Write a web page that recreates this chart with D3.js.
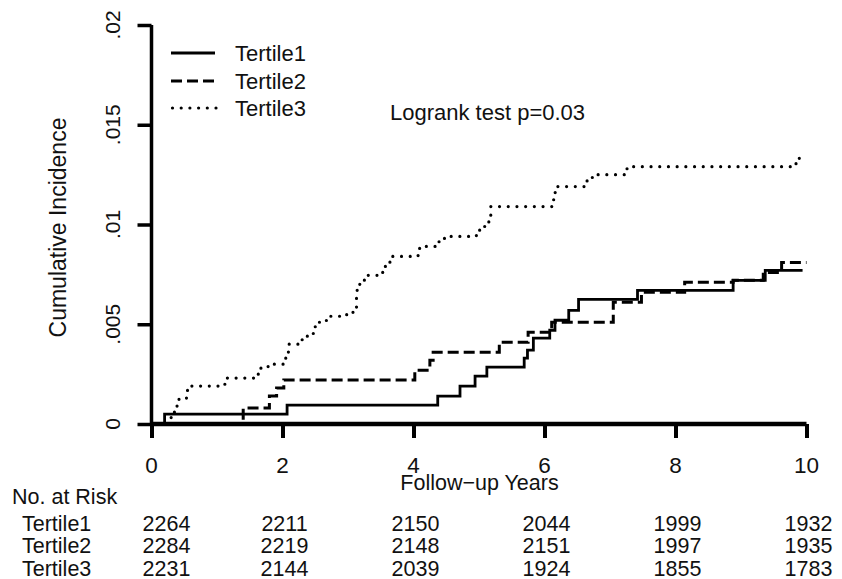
<!DOCTYPE html>
<html>
<head>
<meta charset="utf-8">
<script src="https://cdn.jsdelivr.net/npm/d3@7"></script>
<style>
  html, body { margin: 0; padding: 0; background: #fff; }
  svg { display: block; }
  text { font-family: "Liberation Sans", Arial, sans-serif; fill: #111; }
</style>
</head>
<body>
<svg id="chart" width="842" height="579"></svg>
<script>
// ---------- data ----------
const seriesNames = ["Tertile1", "Tertile2", "Tertile3"];

// step points: time (years) where the curve jumps, and the value after the jump
const t1Times  = [0, 0.20, 2.07, 4.37, 4.71, 4.94, 5.12, 5.69, 5.74, 5.83, 6.08, 6.16, 6.37, 6.52, 7.42, 8.88, 9.37, 9.94];
const t1Values = [0, 0.0005, 0.00095, 0.0014, 0.0019, 0.0024, 0.00285, 0.0033, 0.0037, 0.0043, 0.0047, 0.0052, 0.0057, 0.00625, 0.0067, 0.0072, 0.0077, 0.0077];

const t2Times  = [0, 1.40, 1.80, 1.91, 2.02, 4.02, 4.25, 4.30, 5.31, 5.75, 6.11, 7.05, 7.48, 8.14, 8.88, 9.34, 9.62, 10.0];
const t2Values = [0, 0.0008, 0.0014, 0.0018, 0.0022, 0.0027, 0.0032, 0.0036, 0.0041, 0.0046, 0.0051, 0.0061, 0.0066, 0.0071, 0.0072, 0.0076, 0.0081, 0.0081];

const t3Times  = [0, 0.30, 0.35, 0.42, 0.55, 1.12, 1.63, 1.78, 2.04, 2.09, 2.30, 2.47, 2.50, 2.67, 2.98, 3.13, 3.14, 3.18, 3.25, 3.53, 3.64, 4.07, 4.19, 4.39, 4.51, 4.96, 5.01, 5.13, 5.15, 5.18, 6.13, 6.14, 6.18, 6.65, 6.73, 7.26, 9.84, 9.89, 9.92];
const t3Values = [0, 0.0004, 0.0009, 0.0013, 0.0019, 0.0023, 0.0028, 0.0030, 0.0033, 0.0040, 0.0044, 0.0046, 0.0051, 0.0054, 0.0056, 0.0065, 0.0069, 0.0072, 0.00745, 0.0079, 0.0084, 0.0088, 0.0089, 0.0093, 0.0094, 0.0096, 0.0099, 0.0100, 0.0104, 0.0109, 0.0112, 0.0116, 0.0119, 0.0122, 0.0125, 0.0129, 0.0132, 0.0135, 0.0135];

const xTicks = [0, 2, 4, 6, 8, 10];
const yTicks = [0, 0.005, 0.01, 0.015, 0.02];
const yTickLabels = ["0", ".005", ".01", ".015", ".02"];

const riskTimes = [0, 2, 4, 6, 8, 10];
const risk1 = [2264, 2211, 2150, 2044, 1999, 1932];
const risk2 = [2284, 2219, 2148, 2151, 1997, 1935];
const risk3 = [2231, 2144, 2039, 1924, 1855, 1783];

const xTitle = "Follow\u2212up Years";
const yTitle = "Cumulative Incidence";
const annotation = "Logrank test p=0.03";
const riskTitle = "No. at Risk";

// ---------- layout ----------
const svg = d3.select("#chart");
const x = d3.scaleLinear().domain([0, 10]).range([151.5, 806.5]);
const y = d3.scaleLinear().domain([0, 0.02]).range([424, 25]);

const styles = [
  { dash: null, width: 2.8, cap: "butt" },
  { dash: "11 5", width: 3, cap: "butt" },
  { dash: "0 8.7", width: 3.2, cap: "round" }
];

const series = [
  { name: seriesNames[0], times: t1Times, values: t1Values },
  { name: seriesNames[1], times: t2Times, values: t2Values },
  { name: seriesNames[2], times: t3Times, values: t3Values }
];

const line = d3.line()
  .x(d => x(d[0]))
  .y(d => y(d[1]))
  .curve(d3.curveStepAfter);

// curves
series.forEach((s, i) => {
  const pts = s.times.map((t, k) => [t, s.values[k]]);
  svg.append("path")
    .attr("d", line(pts))
    .attr("fill", "none")
    .attr("stroke", "#000")
    .attr("stroke-width", styles[i].width)
    .attr("stroke-linecap", styles[i].cap)
    .attr("stroke-dasharray", styles[i].dash);
});

// y axis
const yAxis = d3.axisLeft(y).tickValues(yTicks).tickSize(14).tickFormat("");
const gy = svg.append("g").attr("transform", `translate(${x(0)},0)`).call(yAxis);
gy.select(".domain").attr("stroke", "#000").attr("stroke-width", 3.5)
  .attr("d", `M0,${y(0)}V${y(0.02)}`);
gy.selectAll(".tick line").attr("stroke", "#000").attr("stroke-width", 3.5);

svg.selectAll(".ylab").data(yTicks).enter().append("text")
  .attr("transform", d => `translate(120,${y(d)}) rotate(-90)`)
  .attr("text-anchor", "middle")
  .attr("font-size", 21)
  .text((d, i) => yTickLabels[i]);

// x axis
const xAxis = d3.axisBottom(x).tickValues(xTicks).tickSize(14).tickFormat("");
const gx = svg.append("g").attr("transform", `translate(0,${y(0)})`).call(xAxis);
gx.select(".domain").attr("stroke", "#000").attr("stroke-width", 4.5)
  .attr("d", `M${x(0)},0H${x(10)}`);
gx.selectAll(".tick line").attr("stroke", "#000").attr("stroke-width", 4);

svg.selectAll(".xlab").data(xTicks).enter().append("text")
  .attr("x", d => x(d))
  .attr("y", 473)
  .attr("text-anchor", "middle")
  .attr("font-size", 22.5)
  .text(d => d);

// titles
svg.append("text")
  .attr("x", (x(0) + x(10)) / 2 + 0.5)
  .attr("y", 490)
  .attr("text-anchor", "middle")
  .attr("font-size", 21.5)
  .text(xTitle);

svg.append("text")
  .attr("transform", "translate(66,227.5) rotate(-90)")
  .attr("text-anchor", "middle")
  .attr("font-size", 23)
  .text(yTitle);

// legend
const legendY = [53, 81, 108];
series.forEach((s, i) => {
  svg.append("line")
    .attr("x1", 171).attr("x2", 215)
    .attr("y1", legendY[i]).attr("y2", legendY[i])
    .attr("stroke", "#000")
    .attr("stroke-width", styles[i].width)
    .attr("stroke-linecap", styles[i].cap)
    .attr("stroke-dasharray", i === 2 ? "0 8.7" : styles[i].dash)
    .attr("transform", i === 2 ? "translate(1.5,0)" : null);
  svg.append("text")
    .attr("x", 235).attr("y", legendY[i] + 8)
    .attr("font-size", 22)
    .text(s.name);
});

svg.append("text")
  .attr("x", 390).attr("y", 120)
  .attr("font-size", 22)
  .text(annotation);

// number at risk table
svg.append("text")
  .attr("x", 12).attr("y", 503.5)
  .attr("font-size", 21.5)
  .text(riskTitle);

const riskRows = [risk1, risk2, risk3];
const rowY = [530.5, 553, 575.5];
riskRows.forEach((row, r) => {
  svg.append("text")
    .attr("x", 22).attr("y", rowY[r])
    .attr("font-size", 21.5)
    .text(seriesNames[r]);
  svg.selectAll(null).data(row).enter().append("text")
    .attr("x", (d, k) => k === 0 ? x(riskTimes[k]) + 15 : x(riskTimes[k]) + 2)
    .attr("y", rowY[r])
    .attr("text-anchor", "middle")
    .attr("font-size", 21.5)
    .text(d => d);
});
</script>
</body>
</html>
